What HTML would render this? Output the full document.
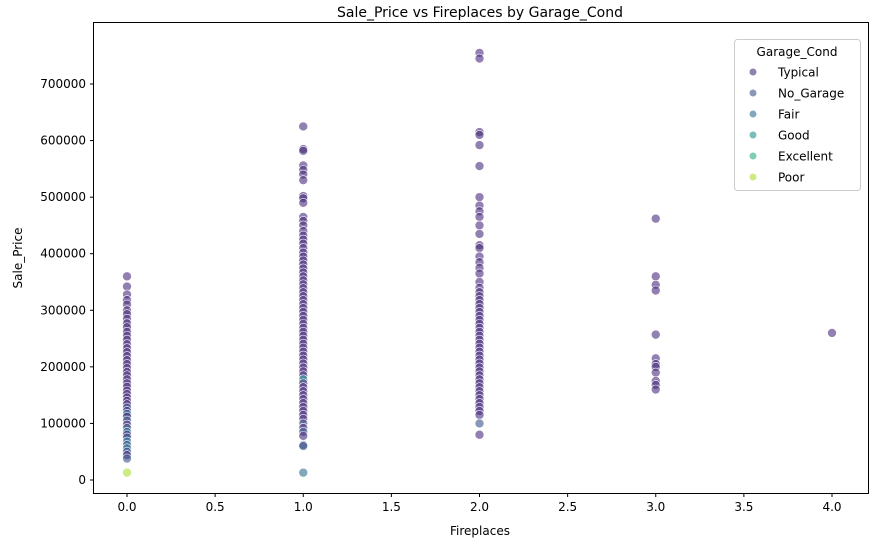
<!DOCTYPE html>
<html><head><meta charset="utf-8"><style>
body{margin:0;background:#fff;font-family:"Liberation Sans","DejaVu Sans",sans-serif}
svg text{font-family:"DejaVu Sans","Liberation Sans",sans-serif}
</style></head><body>
<svg id="chart" width="877" height="547" xmlns="http://www.w3.org/2000/svg">
<rect width="877" height="547" fill="#fff"/>
<text x="480" y="17" text-anchor="middle" font-size="14">Sale_Price vs Fireplaces by Garage_Cond</text>
<g id="marks"></g>
<rect x="93.5" y="22.5" width="775" height="471" fill="none" stroke="#000" stroke-width="1"/>
<g id="axes"></g>
<text x="480" y="535" text-anchor="middle" font-size="12">Fireplaces</text>
<text transform="translate(22,258) rotate(-90)" text-anchor="middle" font-size="12">Sale_Price</text>
<g>
<rect x="734.5" y="39.5" width="126" height="151" rx="3" fill="#fff" stroke="#ccc" fill-opacity="0.8"/>
<text x="797" y="56" text-anchor="middle" font-size="12">Garage_Cond</text>
<g id="legend-items"></g>
</g>
</svg>
<script>
const categories=["Typical","No_Garage","Fair","Good","Excellent","Poor"];
const colors=["#472d7b","#3b528b","#2c728e","#21918c","#28ae80","#addc30"];
const xTicks=[0,0.5,1,1.5,2,2.5,3,3.5,4];
const yTicks=[0,100000,200000,300000,400000,500000,600000,700000];
// points per fireplaces value: [price, conditionIndex]
const fire0=[[360000,0],[342000,0],[328000,0],[318000,0],[310000,0],[300000,0],[293000,0],[285000,0],[277000,0],[270000,0],[262000,0],[255000,0],[248000,0],[240000,0],[233000,0],[226000,0],[219000,0],[212000,0],[205000,0],[198000,0],[191000,0],[185000,0],[178000,0],[171000,0],[165000,0],[158000,0],[152000,0],[146000,0],[140000,0],[134000,0],[128000,1],[122000,0],[117000,2],[112000,0],[105000,1],[98000,0],[92000,1],[85000,2],[80000,0],[75000,1],[68000,2],[62000,1],[56000,2],[50000,1],[44000,0],[38000,1],[13000,5]];
const fire1=[[625000,0],[585000,0],[582000,0],[556000,0],[548000,0],[540000,0],[530000,0],[502000,0],[498000,0],[490000,0],[465000,0],[458000,0],[450000,0],[440000,0],[432000,0],[425000,0],[418000,0],[410000,0],[402000,0],[395000,0],[388000,0],[381000,0],[374000,0],[367000,0],[360000,0],[353000,0],[346000,0],[339000,0],[332000,0],[325000,0],[318000,0],[311000,0],[304000,0],[297000,0],[290000,0],[283000,0],[276000,0],[269000,0],[262000,0],[255000,0],[248000,0],[241000,0],[234000,0],[227000,0],[220000,0],[213000,0],[206000,0],[199000,0],[192000,0],[185000,0],[178000,3],[171000,0],[164000,0],[157000,0],[150000,0],[143000,0],[136000,0],[129000,0],[122000,0],[115000,0],[108000,0],[100000,1],[92000,0],[85000,1],[78000,0],[62000,1],[60000,1],[13000,2]];
const fire2=[[755000,0],[745000,0],[615000,0],[610000,0],[592000,0],[555000,0],[500000,0],[485000,0],[475000,0],[465000,0],[450000,0],[435000,0],[415000,0],[410000,0],[395000,0],[385000,0],[375000,0],[365000,0],[350000,0],[340000,0],[332000,0],[325000,0],[318000,0],[311000,0],[304000,0],[297000,0],[290000,0],[283000,0],[276000,0],[269000,0],[262000,0],[255000,0],[248000,0],[241000,0],[234000,0],[227000,0],[220000,0],[213000,0],[206000,0],[199000,0],[192000,0],[185000,0],[178000,0],[171000,0],[164000,0],[157000,0],[150000,0],[143000,0],[136000,0],[129000,0],[122000,0],[115000,0],[100000,1],[80000,0]];
const fire3=[[462000,0],[360000,0],[345000,0],[335000,0],[257000,0],[215000,0],[205000,0],[200000,0],[190000,0],[175000,0],[168000,0],[160000,0]];
const fire4=[[260000,0]];
const groups=[[0,fire0],[1,fire1],[2,fire2],[3,fire3],[4,fire4]];
const X=v=>127+v*176.25;
const Y=v=>480-v*0.0005657;
const NS="http://www.w3.org/2000/svg";
const marks=document.getElementById('marks');
groups.forEach(([fx,pts])=>pts.forEach(([p,c])=>{
 const el=document.createElementNS(NS,'circle');
 el.setAttribute('cx',X(fx));el.setAttribute('cy',Y(p));el.setAttribute('r',4.5);
 el.setAttribute('fill',colors[c]);el.setAttribute('fill-opacity',0.6);
 el.setAttribute('stroke','#fff');el.setAttribute('stroke-width',0.6);
 
 
 marks.appendChild(el);
}));
const axes=document.getElementById('axes');
xTicks.forEach(t=>{
 const g=document.createElementNS(NS,'g');
 
 
 g.innerHTML=`<line x1="${X(t)}" x2="${X(t)}" y1="493.5" y2="497" stroke="#000"/><text x="${X(t)}" y="511" text-anchor="middle" font-size="12">${t.toFixed(1)}</text>`;
 axes.appendChild(g);
});
yTicks.forEach(t=>{
 const g=document.createElementNS(NS,'g');
 
 
 g.innerHTML=`<line x1="90" x2="93.5" y1="${Y(t)}" y2="${Y(t)}" stroke="#000"/><text x="86" y="${Y(t)+4}" text-anchor="end" font-size="12">${t}</text>`;
 axes.appendChild(g);
});
const li=document.getElementById('legend-items');
categories.forEach((c,i)=>{
 const g=document.createElementNS(NS,'g');
 
 
 const y=72+i*21;
 g.innerHTML=`<circle cx="753" cy="${y}" r="3.5" fill="${colors[i]}" fill-opacity="0.6"/><text x="778" y="${y+4.5}" font-size="12">${c}</text>`;
 li.appendChild(g);
});
</script>
</body></html>
